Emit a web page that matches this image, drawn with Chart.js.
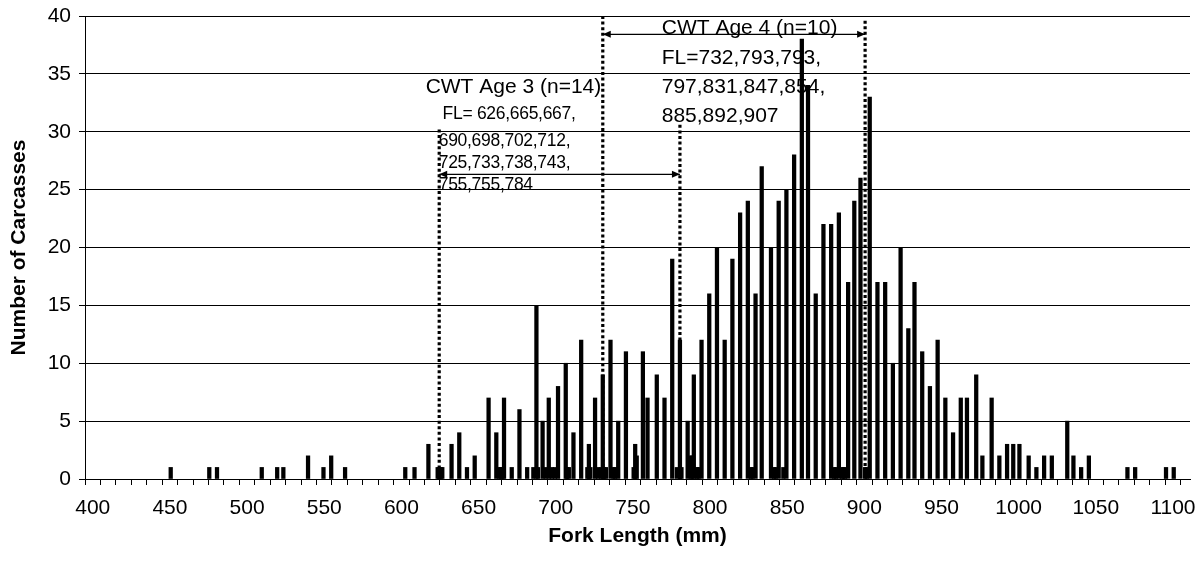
<!DOCTYPE html>
<html>
	<head>
		<title>Fork Length</title>
		<meta charset="UTF-8">
		<script src="https://cdn.jsdelivr.net/npm/chart.js@4.4.1/dist/chart.umd.min.js"></script>
		<style>
			body { margin: 0; background: #fff; }
			canvas { display: block; }
		</style>
	</head>
	<body>
		<canvas id="length-chart" width="1203" height="568"></canvas>

		<script>
			// carcasses per fork length (mm)
			const forkLength = [
				450, 475, 480, 509, 519, 523, 539, 549, 554, 563,
				602, 608, 617, 623, 624, 625, 626, 632, 637, 642, 647,
				656, 661, 663, 664, 665, 666, 671, 676, 681, 685, 687, 688, 691,
				693, 695, 697, 699, 701, 706, 707, 708, 711, 716, 720, 721, 722, 725,
				727, 729, 730, 731, 732, 735, 737, 738, 740, 745, 750, 751, 752, 756, 759,
				765, 770, 775, 778, 780, 781, 785, 787, 788, 789, 791, 792, 794, 799,
				804, 809, 814, 819, 824, 826, 827, 829, 833, 839, 841, 842, 844, 847, 849,
				854, 859, 863, 868, 873, 878, 880, 881, 883, 885, 886, 887, 889, 893, 897,
				900, 901, 903, 908, 913, 918, 923, 928, 932, 937, 942, 947, 952, 957, 962,
				966, 972, 976, 982, 987, 992, 996, 1000, 1006, 1011, 1016, 1021,
				1031, 1035, 1040, 1045, 1070, 1075, 1095, 1100
			];
			const carcasses = [
				1, 1, 1, 1, 1, 1, 2, 1, 2, 1,
				1, 1, 3, 1, 1, 1, 1, 3, 4, 1, 2,
				7, 4, 1, 1, 1, 7, 1, 6, 1, 1, 15, 1, 5,
				1, 7, 1, 1, 8, 10, 1, 1, 4, 12, 1, 3, 1, 7,
				1, 1, 9, 1, 1, 12, 1, 1, 5, 11, 1, 3, 2, 11, 7,
				9, 7, 19, 1, 12, 1, 5, 2, 2, 9, 1, 1, 12, 16,
				20, 12, 19, 23, 24, 1, 1, 16, 27, 20, 1, 1, 24, 1, 25,
				28, 38, 34, 16, 22, 22, 1, 1, 23, 1, 1, 1, 17, 24, 26,
				1, 1, 33, 17, 17, 10, 20, 13, 17, 11, 8, 12, 7, 4, 7,
				7, 9, 2, 7, 2, 3, 3, 3, 2, 1, 2, 2,
				5, 2, 1, 2, 1, 1, 1, 1
			];

			// axis ticks: marks every 10 mm, labels every 50 mm
			const xTicks = [];
			for (let v = 400; v <= 1100; v += 10) xTicks.push(v);
			const xLabelEvery = 50;
			const yTicks = [0, 5, 10, 15, 20, 25, 30, 35, 40];

			// coded-wire-tag recoveries
			const age3Text = ['CWT Age 3 (n=14)', 'FL= 626,665,667,', '690,698,702,712,', '725,733,738,743,', '755,755,784'];
			const age4Text = ['CWT Age 4 (n=10)', 'FL=732,793,793,', '797,831,847,854,', '885,892,907'];
			const age3Bounds = [624, 780];
			const age4Bounds = [730, 900];

			const FONT = "'Liberation Sans', Arial, sans-serif";

			function arrowHead(ctx, x, y, dir) {
				ctx.beginPath();
				ctx.moveTo(x, y);
				ctx.lineTo(x - dir * 8, y - 3.5);
				ctx.lineTo(x - dir * 8, y + 3.5);
				ctx.closePath();
				ctx.fill();
			}

			function span(ctx, x1, x2, y) {
				ctx.beginPath();
				ctx.moveTo(x1, y);
				ctx.lineTo(x2, y);
				ctx.stroke();
				arrowHead(ctx, x1, y, -1);
				arrowHead(ctx, x2, y, 1);
			}

			function dotted(ctx, x, y1, y2) {
				ctx.save();
				ctx.lineWidth = 3.2;
				ctx.setLineDash([3, 2.6]);
				ctx.beginPath();
				ctx.moveTo(x, y1);
				ctx.lineTo(x, y2);
				ctx.stroke();
				ctx.restore();
			}

			const cwtNotes = {
				id: 'cwtNotes',
				afterDatasetsDraw(chart) {
					const ctx = chart.ctx;
					const x = chart.scales.x, y = chart.scales.y;
					ctx.save();
					ctx.strokeStyle = '#000';
					ctx.fillStyle = '#000';

					// age 3
					dotted(ctx, x.getPixelForValue(age3Bounds[0]), y.getPixelForValue(30.2), y.bottom);
					dotted(ctx, x.getPixelForValue(age3Bounds[1]), y.getPixelForValue(30.6), y.bottom);
					ctx.lineWidth = 1.3;
					span(ctx, x.getPixelForValue(age3Bounds[0]), x.getPixelForValue(age3Bounds[1]), y.getPixelForValue(26.32));

					ctx.textAlign = 'left';
					ctx.textBaseline = 'alphabetic';
					ctx.font = '21px ' + FONT;
					ctx.fillText(age3Text[0], x.getPixelForValue(615.2), y.getPixelForValue(33.37));
					ctx.font = '17.5px ' + FONT;
					ctx.letterSpacing = '-0.3px';
					ctx.fillText(age3Text[1], x.getPixelForValue(626.2), y.getPixelForValue(31.08));
					const rows = [28.77, 26.9, 24.97];
					for (let i = 2; i < age3Text.length; i++) {
						ctx.fillText(age3Text[i], x.getPixelForValue(623.7), y.getPixelForValue(rows[i - 2]));
					}
					ctx.letterSpacing = '0px';

					// age 4
					dotted(ctx, x.getPixelForValue(age4Bounds[0]), y.top, y.bottom);
					dotted(ctx, x.getPixelForValue(age4Bounds[1]), y.getPixelForValue(39.6), y.bottom);
					ctx.lineWidth = 1.3;
					span(ctx, x.getPixelForValue(age4Bounds[0]), x.getPixelForValue(age4Bounds[1]), y.getPixelForValue(38.42));

					ctx.font = '21px ' + FONT;
					const top4 = y.getPixelForValue(38.42);
					age4Text.forEach((t, i) => {
						ctx.fillText(t, x.getPixelForValue(768.2), top4 + i * 29.3);
					});
					ctx.restore();
				}
			};

			new Chart(document.getElementById('length-chart'), {
				type: 'bar',
				data: {
					datasets: [{
						label: 'Carcasses',
						data: forkLength.map((fl, i) => ({x: fl, y: carcasses[i]})),
						backgroundColor: '#000',
						borderWidth: 0,
						barThickness: 3.6
					}]
				},
				options: {
					responsive: false,
					devicePixelRatio: 1,
					animation: false,
					layout: {padding: {top: 16, right: 13, bottom: 0, left: 0}},
					plugins: {legend: {display: false}, tooltip: {enabled: false}},
					scales: {
						x: {
							type: 'linear',
							min: 399.5,
							max: 1105.5,
							afterBuildTicks: axis => {
								axis.ticks = xTicks.map(v => ({value: v - 0.5}));
							},
							afterFit: axis => {
								axis.height = 89;
								axis.paddingLeft = 0;
								axis.paddingRight = 0;
							},
							ticks: {
								autoSkip: false,
								maxRotation: 0,
								padding: 11,
								color: '#000',
								font: {family: FONT, size: 21},
								callback: v => {
									const mm = Math.round(v + 0.5);
									return mm % xLabelEvery === 0 ? String(mm) : '';
								}
							},
							grid: {display: true, drawOnChartArea: false, drawTicks: true, tickLength: 6, color: '#000'},
							border: {display: true, color: '#000', width: 1},
							title: {
								display: true,
								text: 'Fork Length (mm)',
								color: '#000',
								font: {family: FONT, size: 21, weight: 'bold'},
								padding: {top: 0, bottom: 19}
							}
						},
						y: {
							min: 0,
							max: 40,
							afterBuildTicks: axis => {
								axis.ticks = yTicks.map(v => ({value: v}));
							},
							afterFit: axis => {
								axis.width = 85;
								axis.paddingTop = 0;
								axis.paddingBottom = 0;
							},
							ticks: {
								padding: 8,
								color: '#000',
								font: {family: FONT, size: 21}
							},
							grid: {color: '#000', lineWidth: 1, drawTicks: true, tickLength: 6},
							border: {display: true, color: '#000', width: 1},
							title: {
								display: true,
								text: 'Number of Carcasses',
								color: '#000',
								font: {family: FONT, size: 21, weight: 'bold'},
								padding: {top: 7, bottom: 0}
							}
						}
					}
				},
				plugins: [cwtNotes]
			});
		</script>
	</body>
</html>
